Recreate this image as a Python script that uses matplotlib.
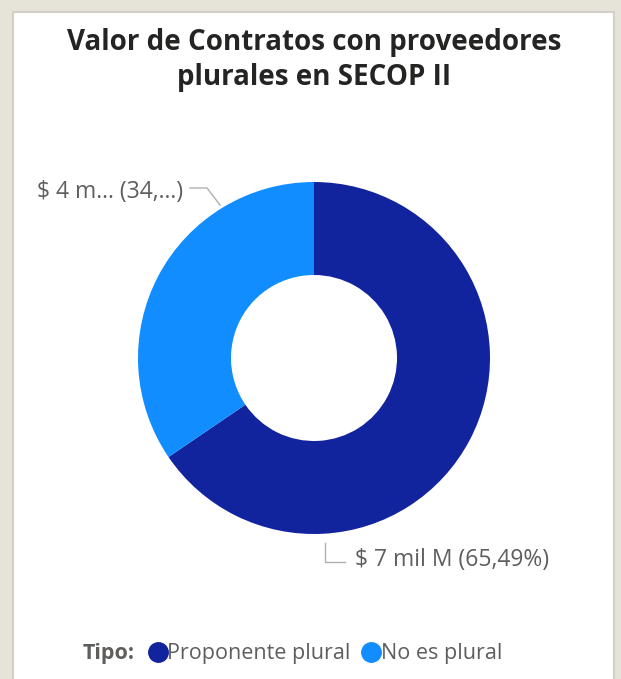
import matplotlib
matplotlib.use('Agg')
import matplotlib.pyplot as plt
from matplotlib.lines import Line2D
from matplotlib.patches import Rectangle

# data
categorias = ['Proponente plural', 'No es plural']
porcentajes = [65.49, 34.51]
etiquetas = ['$ 7 mil M (65,49%)', '$ 4 m... (34,...)']
colores = ['#12239E', '#118DFF']

TITULO = 'Valor de Contratos con proveedores\nplurales en SECOP II'
BG = '#E6E4D8'
TXT = '#605E5C'
LEADER = '#B3B0AD'

plt.rcParams['font.family'] = ['Open Sans', 'DejaVu Sans']

W, H = 621, 679
fig = plt.figure(figsize=(W / 100, H / 100), dpi=100)
fig.patch.set_facecolor(BG)

# white card
fig.patches.append(Rectangle((13 / W, -0.01), (614 - 13) / W, (679 - 12) / H + 0.01,
                             transform=fig.transFigure, facecolor='white',
                             edgecolor='#D2D0C6', linewidth=1.5, zorder=-10))

fig.text(314 / W, 1 - 60 / H, TITULO, ha='center', va='center', fontsize=20,
         fontweight='bold', color='#252423', linespacing=1.3)

# donut
cx, cy, R = 314, 358, 176
ax = fig.add_axes([(cx - R) / W, (H - cy - R) / H, 2 * R / W, 2 * R / H])
ax.pie(porcentajes, colors=colores, startangle=90, counterclock=False,
       radius=1, wedgeprops=dict(width=1 - 83 / 176, linewidth=0))
ax.set_xlim(-1, 1)
ax.set_ylim(-1, 1)
ax.set_aspect('equal')
ax.axis('off')

# leader lines + labels
ax.plot([0.0625, 0.0625, 0.176], [-1.051, -1.159, -1.159], color=LEADER, lw=1, clip_on=False)
ax.text(0.235, -1.148, etiquetas[0], ha='left', va='center', fontsize=16.5, color=TXT, clip_on=False)
ax.plot([-0.534, -0.608, -0.705], [0.869, 0.966, 0.966], color=LEADER, lw=1, clip_on=False)
ax.text(-0.745, 0.945, etiquetas[1], ha='right', va='center', fontsize=16.5, color=TXT, clip_on=False)

# legend
fig.text(83 / W, 1 - 654 / H, 'Tipo:', ha='left', va='center', fontsize=15.5,
         fontweight='bold', color=TXT)
handles = [Line2D([], [], marker='o', linestyle='', markersize=14, color=c) for c in colores]
fig.legend(handles, categorias, loc='center left', bbox_to_anchor=(150 / W, 1 - 654 / H),
           ncol=2, frameon=False, fontsize=15.5, labelcolor=TXT, handlelength=0.7,
           handletextpad=0.1, columnspacing=0.6, borderpad=0, borderaxespad=0)

fig.savefig('out.png', dpi=100, facecolor=BG)
